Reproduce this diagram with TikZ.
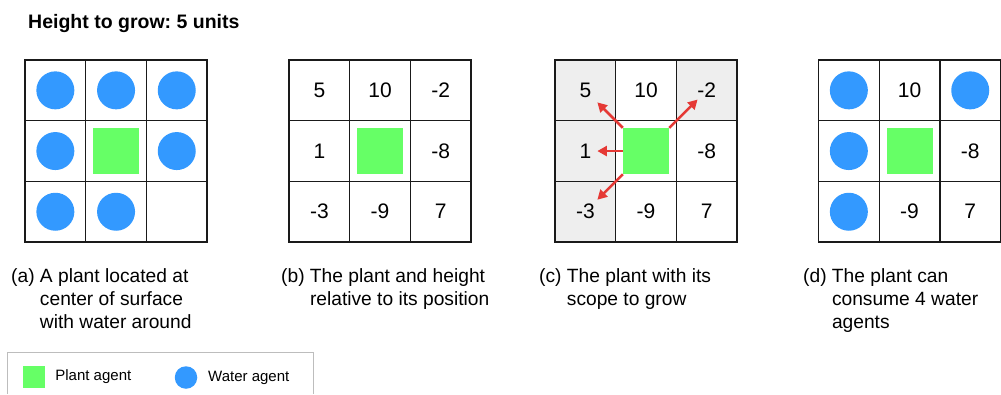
\documentclass[tikz,border=0pt]{standalone}
\usepackage{fontspec}
\setmainfont{Liberation Sans}
\usepackage{xcolor}
\usepackage{tikz}
\usetikzlibrary{arrows.meta,positioning}
\definecolor{waterblue}{HTML}{3399FF}
\definecolor{plantgreen}{HTML}{66FF66}
\definecolor{scopegray}{HTML}{EEEEEE}
\definecolor{growred}{HTML}{E53935}
\definecolor{gridline}{HTML}{1A1A1A}
\definecolor{framegray}{HTML}{BDBDBD}
\frenchspacing
\tikzset{
  cell/.style={rectangle,draw=gridline,line width=1.3pt,minimum size=60.7pt,
    inner sep=0pt,font=\fontsize{21}{25}\selectfont},
  scell/.style={cell,fill=scopegray},
  water/.style={circle,fill=waterblue,minimum size=38pt,inner sep=0pt},
  plant/.style={rectangle,fill=plantgreen,minimum size=46pt,inner sep=0pt},
  growarr/.style={-{Triangle[length=9.5pt,width=10pt]},growred,line width=2.6pt},
  captxt/.style={anchor=base west,inner sep=0pt,font=\fontsize{19.2}{23.2}\selectfont},
  keytxt/.style={inner sep=0pt,font=\fontsize{15}{18}\selectfont},
}

\begin{document}
\begin{tikzpicture}[x=1pt,y=-1pt]
\useasboundingbox (0,0) rectangle (1001,394);

% TITLE
\node[anchor=base west,inner sep=0pt,font=\bfseries\fontsize{19.5}{23}\selectfont]
  (title) at (28,28.5) {Height to grow: 5 units};

% (a) plant with water around
\begin{scope}[shift={(25,60)}]
\foreach \r in {1,2,3}
  \foreach \c in {1,2,3}
    \node[cell] (a\r\c) at ({60.7*\c-30.35},{60.7*\r-30.35}) {};
\end{scope}
\node[plant] (plantA) at (a22) {};
\foreach \rc in {11,12,13,21,23,31,32}
  \node[water] (wa\rc) at (a\rc) {};

% (b) heights relative to the plant
\begin{scope}[shift={(289,60)}]
\foreach \r/\c/\v in {1/1/5,1/2/10,1/3/-2,2/1/1,2/2/,2/3/-8,3/1/-3,3/2/-9,3/3/7}
  \node[cell] (b\r\c) at ({60.7*\c-30.35},{60.7*\r-30.35}) {\v};
\end{scope}
\node[plant] (plantB) at (b22) {};

% (c) scope to grow
\begin{scope}[shift={(555,60)}]
\foreach \r/\c/\v/\s in {1/1/5/scell,1/2/10/cell,1/3/-2/scell,2/1/1/scell,2/2//cell,
    2/3/-8/cell,3/1/-3/scell,3/2/-9/cell,3/3/7/cell}
  \node[\s] (c\r\c) at ({60.7*\c-30.35},{60.7*\r-30.35}) {\v};
\end{scope}
\node[plant] (plantC) at (c22) {};
\draw[growarr,shorten >=17pt] (plantC.north west) -- (c11.center);
\draw[growarr,shorten >=13pt] (plantC.north east) -- (c13.center);
\draw[growarr,shorten >=12pt] (plantC.west) -- (c21.center);
\draw[growarr,shorten >=17pt] (plantC.south west) -- (c31.center);

% (d) water the plant can consume
\begin{scope}[shift={(818.5,60)}]
\foreach \r/\c/\v in {1/1/,1/2/10,1/3/,2/1/,2/2/,2/3/-8,3/1/,3/2/-9,3/3/7}
  \node[cell] (d\r\c) at ({60.7*\c-30.35},{60.7*\r-30.35}) {\v};
\end{scope}
\node[plant] (plantD) at (d22) {};
\foreach \rc in {11,13,21,31}
  \node[water] (wd\rc) at (d\rc) {};

% captions
\node[captxt] (capA) at (11,282) {\begin{tabular}[t]{@{}l@{ }l@{}}(a)&A plant located at\\
  &center of surface\\&with water around\end{tabular}};
\node[captxt] (capB) at (281,282) {\begin{tabular}[t]{@{}l@{ }l@{}}(b)&The plant and height\\
  &relative to its position\end{tabular}};
\node[captxt] (capC) at (539,282) {\begin{tabular}[t]{@{}l@{ }l@{}}(c)&The plant with its\\
  &scope to grow\end{tabular}};
\node[captxt] (capD) at (803,282) {\begin{tabular}[t]{@{}l@{ }l@{}}(d)&The plant can\\
  &consume 4 water\\&agents\end{tabular}};

% legend
\draw[framegray,line width=1pt] (7,394) |- (313,352) -- (313,394);
\node[plant,minimum size=22pt] (keyPlant) at (33.5,377) {};
\node[keytxt,right=10.5pt of keyPlant] (keyPlantTxt) {Plant agent};
\node[water,minimum size=22.5pt] (keyWater) at (186,377.5) {};
\node[keytxt,right=10.5pt of keyWater] (keyWaterTxt) {Water agent};
\end{tikzpicture}
\end{document}
